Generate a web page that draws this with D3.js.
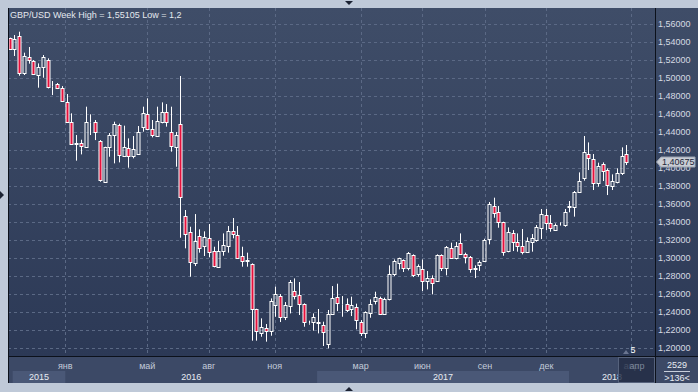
<!DOCTYPE html>
<html><head><meta charset="utf-8">
<script src="https://cdn.jsdelivr.net/npm/d3@7"></script>
<style>
html,body{margin:0;padding:0;background:#bfc9d8;}
svg{display:block;font-family:"Liberation Sans",Arial,sans-serif;}
</style></head>
<body>
<svg id="c" width="698" height="392"></svg>
<script>
// ---- data (weekly GBP/USD candles) ----
const opens = [1.5438,1.5315,1.5463,1.5048,1.5226,1.5185,1.5030,1.5115,1.5196,1.4905,
1.4926,1.4881,1.4733,1.4504,1.4263,1.4274,1.4230,1.4504,1.4504,1.4296,
1.3844,1.4226,1.4367,1.4474,1.4133,1.4215,1.4130,1.4156,1.4448,1.4593,
1.4426,1.4352,1.4511,1.4615,1.4396,1.4226,1.4481,1.3463,1.3281,1.2937,
1.3237,1.3133,1.3215,1.3074,1.2900,1.3074,1.3126,1.3293,1.3252,1.3015,
1.2968,1.2930,1.2430,1.2159,1.2215,1.2189,1.2470,1.2574,1.2341,1.2459,
1.2630,1.2585,1.2481,1.2272,1.2281,1.2279,1.2248,1.2041,1.2378,1.2567,
1.2485,1.2489,1.2426,1.2456,1.2289,1.2167,1.2389,1.2519,1.2556,1.2378,
1.2537,1.2815,1.2937,1.2970,1.2881,1.3026,1.2815,1.2878,1.2741,1.2778,
1.2741,1.3026,1.2889,1.3111,1.3000,1.3159,1.3044,1.3011,1.2879,1.2915,
1.2963,1.3204,1.3578,1.3504,1.3393,1.3078,1.3270,1.3178,1.3130,1.3067,
1.3170,1.3196,1.3326,1.3474,1.3381,1.3307,1.3361,1.3363,1.3565,1.3567,
1.3733,1.3881,1.4148,1.4096,1.3826,1.4037,1.3974,1.3800,1.3844,1.3937,
1.4148];
const highs = [1.5445,1.5474,1.5511,1.5278,1.5341,1.5196,1.5159,1.5252,1.5215,1.4963,
1.4941,1.4907,1.4819,1.4604,1.4363,1.4311,1.4678,1.4593,1.4530,1.4307,
1.4233,1.4385,1.4511,1.4489,1.4467,1.4326,1.4352,1.4463,1.4678,1.4770,
1.4530,1.4678,1.4726,1.4707,1.4678,1.4396,1.5019,1.3530,1.3344,1.3485,
1.3315,1.3293,1.3374,1.3122,1.3185,1.3270,1.3352,1.3441,1.3352,1.3122,
1.3056,1.2937,1.2433,1.2326,1.2263,1.2548,1.2678,1.2596,1.2507,1.2752,
1.2770,1.2730,1.2493,1.2300,1.2381,1.2430,1.2289,1.2419,1.2685,1.2711,
1.2574,1.2548,1.2567,1.2489,1.2307,1.2404,1.2537,1.2622,1.2567,1.2556,
1.2915,1.2981,1.3000,1.2981,1.3063,1.3037,1.2926,1.2981,1.2852,1.2804,
1.3037,1.3037,1.3130,1.3167,1.3174,1.3270,1.3056,1.3019,1.2915,1.2970,
1.3211,1.3619,1.3667,1.3574,1.3400,1.3337,1.3307,1.3270,1.3319,1.3226,
1.3263,1.3363,1.3541,1.3541,1.3474,1.3381,1.3393,1.3541,1.3630,1.3741,
1.3948,1.4352,1.4281,1.4152,1.4056,1.4059,1.3993,1.3926,1.3993,1.4226,
1.4252];
const lows = [1.5310,1.5241,1.5022,1.5030,1.5156,1.5030,1.4889,1.5000,1.4881,1.4807,
1.4874,1.4733,1.4504,1.4252,1.4078,1.4148,1.4226,1.4363,1.4307,1.3844,
1.3837,1.4122,1.4048,1.4059,1.4130,1.4000,1.4104,1.4152,1.4400,1.4419,
1.4337,1.4344,1.4493,1.4456,1.4178,1.4011,1.3222,1.3104,1.2789,1.2907,
1.3056,1.3019,1.3004,1.2893,1.2893,1.3022,1.3056,1.3215,1.2993,1.2900,
1.2900,1.2078,1.2078,1.2122,1.2067,1.2133,1.2344,1.2285,1.2307,1.2381,
1.2537,1.2363,1.2233,1.2256,1.2189,1.2159,1.2019,1.1993,1.2370,1.2407,
1.2344,1.2396,1.2352,1.2204,1.2130,1.2107,1.2333,1.2481,1.2370,1.2370,
1.2526,1.2796,1.2870,1.2841,1.2859,1.2785,1.2789,1.2630,1.2648,1.2593,
1.2730,1.2852,1.2804,1.2989,1.2981,1.3037,1.2937,1.2833,1.2774,1.2852,
1.2952,1.3148,1.3444,1.3333,1.3022,1.3060,1.3074,1.3067,1.3037,1.3056,
1.3067,1.3178,1.3207,1.3307,1.3289,1.3300,1.3356,1.3344,1.3504,1.3456,
1.3726,1.3856,1.3974,1.3752,1.3789,1.3852,1.3696,1.3752,1.3826,1.3919,
1.4030];
const closes = [1.5319,1.5426,1.5056,1.5241,1.5193,1.5037,1.5115,1.5226,1.4893,1.4912,
1.4881,1.4744,1.4511,1.4259,1.4270,1.4244,1.4504,1.4507,1.4400,1.3859,
1.4226,1.4367,1.4485,1.4141,1.4226,1.4130,1.4204,1.4400,1.4611,1.4430,
1.4363,1.4519,1.4622,1.4511,1.4244,1.4359,1.3678,1.3259,1.2948,1.3181,
1.3104,1.3226,1.3067,1.2911,1.3074,1.3141,1.3293,1.3259,1.3000,1.2959,
1.2972,1.2426,1.2181,1.2230,1.2181,1.2522,1.2596,1.2341,1.2470,1.2730,
1.2570,1.2481,1.2281,1.2276,1.2337,1.2283,1.2174,1.2370,1.2556,1.2493,
1.2489,1.2415,1.2470,1.2304,1.2167,1.2400,1.2481,1.2559,1.2378,1.2537,
1.2815,1.2963,1.2993,1.2889,1.3048,1.2811,1.2907,1.2741,1.2778,1.2722,
1.3026,1.2889,1.3119,1.3000,1.3130,1.3044,1.3011,1.2878,1.2883,1.2956,
1.3196,1.3600,1.3493,1.3393,1.3060,1.3281,1.3178,1.3130,1.3067,1.3185,
1.3215,1.3337,1.3485,1.3381,1.3326,1.3363,1.3365,1.3504,1.3569,1.3726,
1.3852,1.4170,1.4111,1.3826,1.4022,1.3967,1.3807,1.3852,1.3937,1.4133,
1.40675];

const priceTicks = [1.20,1.22,1.24,1.26,1.28,1.30,1.32,1.34,1.36,1.38,1.40,1.42,1.44,1.46,1.48,1.50,1.52,1.54,1.56];
const monthLabels = ["янв","май","авг","ноя","мар","июн","сен","дек","апр"];
const monthPos = [11.72,29.0,41.95,55.86,73.99,86.97,100.19,113.11,131.03];
const yearLabels = ["2015","2016","2017","2018"];
const yearStart = [0.63,11.72,64.8,117.9];
const yearEnd = [11.72,64.8,117.9,136.0];
const titleText = "GBP/USD Week High = 1,55105 Low = 1,2";
const lastPrice = 1.40675;

// ---- layout ----
const W = 698, H = 392;
const L = 8, R = 655, T = 8, B = 356, AXB = 383;
const svg = d3.select("#c");
const x = d3.scaleLinear().domain([0, 130]).range([9.7, 626.4]);
const y = d3.scaleLinear().domain([1.20, 1.56]).range([347.7, 23.7]);
const fmt = v => d3.format(".5f")(v).replace(".", ",");

const defs = svg.append("defs");
const g1 = defs.append("linearGradient").attr("id","bg").attr("x1",0).attr("y1",0).attr("x2",0).attr("y2",1);
g1.append("stop").attr("offset","0%").attr("stop-color","#3f4d68");
g1.append("stop").attr("offset","100%").attr("stop-color","#2c3956");
defs.append("clipPath").attr("id","clip").append("rect").attr("x",L).attr("y",T).attr("width",R-L).attr("height",B-T);

// outer frame
svg.append("rect").attr("width",W).attr("height",H).attr("fill","#bfc9d8");
// plot + right panel background
svg.append("rect").attr("x",L).attr("y",T).attr("width",W-L).attr("height",B-T).attr("fill","url(#bg)");
// bottom band
svg.append("rect").attr("x",L).attr("y",B).attr("width",W-L).attr("height",AXB-B).attr("fill","#3c4966");

// grid
const grid = svg.append("g").attr("clip-path","url(#clip)");
grid.selectAll("line.h").data(priceTicks).join("line")
  .attr("x1",L).attr("x2",R)
  .attr("y1",d=>Math.round(y(d))+0.5).attr("y2",d=>Math.round(y(d))+0.5)
  .attr("stroke","#5b6985").attr("stroke-dasharray","3,3");
grid.selectAll("line.v").data(monthPos).join("line")
  .attr("x1",d=>Math.round(x(d))+0.5).attr("x2",d=>Math.round(x(d))+0.5)
  .attr("y1",T).attr("y2",B)
  .attr("stroke","#5b6985").attr("stroke-dasharray","3,3");

// candles
const idx = d3.range(opens.length);
const cg = svg.append("g").attr("clip-path","url(#clip)");
const cx = i => Math.round(x(i)) + 0.5;
const bTop = i => Math.round(y(Math.max(opens[i],closes[i]))) + 0.5;
const bBot = i => Math.round(y(Math.min(opens[i],closes[i]))) + 0.5;
cg.selectAll("line.wu").data(idx).join("line")
  .attr("x1",cx).attr("x2",cx)
  .attr("y1",i=>y(highs[i])).attr("y2",bTop)
  .attr("stroke","#ffffff");
cg.selectAll("line.wd").data(idx).join("line")
  .attr("x1",cx).attr("x2",cx)
  .attr("y1",bBot).attr("y2",i=>y(lows[i]))
  .attr("stroke","#ffffff");
cg.selectAll("rect.b").data(idx).join("rect")
  .attr("x",i=>cx(i)-1.5).attr("width",3)
  .attr("y",bTop)
  .attr("height",i=>Math.max(0, bBot(i)-bTop(i)))
  .attr("fill",i=>closes[i] < opens[i] ? "#e5113c" : "none")
  .attr("stroke","#ffffff").attr("stroke-width",1);

// title
svg.append("text").attr("x",10).attr("y",18).attr("font-size",9).attr("fill","#e4e8ee").text(titleText);

// separators
svg.append("line").attr("x1",L+0.5).attr("x2",L+0.5).attr("y1",T).attr("y2",AXB).attr("stroke","#0c111b");
svg.append("line").attr("x1",R+0.5).attr("x2",R+0.5).attr("y1",T).attr("y2",AXB).attr("stroke","#0c111b");
svg.append("line").attr("x1",L).attr("x2",W).attr("y1",B+0.5).attr("y2",B+0.5).attr("stroke","#0c111b");

// right axis labels
svg.append("g").selectAll("text").data(priceTicks).join("text")
  .attr("x",658).attr("y",d=>y(d)).attr("dy","0.35em")
  .attr("font-size",9).attr("fill","#d6dbe3").text(fmt);

// last price marker
const ly = Math.round(y(lastPrice));
svg.append("path").attr("d",`M656.5,${ly} L661,${ly-5} L695,${ly-5} L695,${ly+5} L661,${ly+5} Z`)
  .attr("fill","#c9cdd5").attr("stroke","#9aa2b0");
svg.append("text").attr("x",662).attr("y",ly).attr("dy","0.35em").attr("font-size",9).attr("fill","#1e2738")
  .text(fmt(lastPrice));

// year cells
svg.append("g").selectAll("rect").data(yearLabels).join("rect")
  .attr("x",(d,i)=>x(yearStart[i])).attr("width",(d,i)=>x(yearEnd[i])-x(yearStart[i]))
  .attr("y",371).attr("height",AXB-371)
  .attr("fill",(d,i)=> i%2===0 ? "#4a5877" : "none");
svg.append("g").selectAll("text").data(yearLabels).join("text")
  .attr("x",(d,i)=>(x(yearStart[i])+x(yearEnd[i]))/2).attr("y",380)
  .attr("text-anchor","middle").attr("font-size",9).attr("fill","#e8ecf2").text(d=>d);
// month labels
svg.append("g").selectAll("text").data(monthLabels).join("text")
  .attr("x",(d,i)=>x(monthPos[i])).attr("y",369)
  .attr("text-anchor","middle").attr("font-size",9).attr("fill","#c3cbd9").text(d=>d);

// current period box
svg.append("rect").attr("x",618.5).attr("y",B+1.5).attr("width",R-619).attr("height",AXB-B-2)
  .attr("fill","#222c44").attr("fill-opacity",0.8).attr("stroke","#56627c");
svg.append("text").attr("x",637).attr("y",369).attr("text-anchor","middle").attr("font-size",9).attr("fill","#7d879b").text("апр");
// shift indicator
svg.append("path").attr("d","M623,354 L626,350 L629,354 Z").attr("fill","#6a7590");
svg.append("text").attr("x",633).attr("y",353).attr("text-anchor","middle").attr("font-size",9).attr("fill","#ffffff").text("5");

// right bottom cell
svg.append("text").attr("x",677).attr("y",368).attr("text-anchor","middle").attr("font-size",9).attr("fill","#e8ecf2").text("2529");
svg.append("line").attr("x1",664).attr("x2",690).attr("y1",371.5).attr("y2",371.5).attr("stroke","#c8cfdb");
svg.append("text").attr("x",677).attr("y",381).attr("text-anchor","middle").attr("font-size",9).attr("fill","#e8ecf2").text(">136<");

// frame markers
svg.append("path").attr("d","M345,1 L353,1 L349,5 Z").attr("fill","#1b2232");
svg.append("path").attr("d","M345,391 L353,391 L349,387 Z").attr("fill","#1b2232");
svg.append("path").attr("d","M0,191 L0,199 L4,195 Z").attr("fill","#1b2232");
</script>
</body></html>
